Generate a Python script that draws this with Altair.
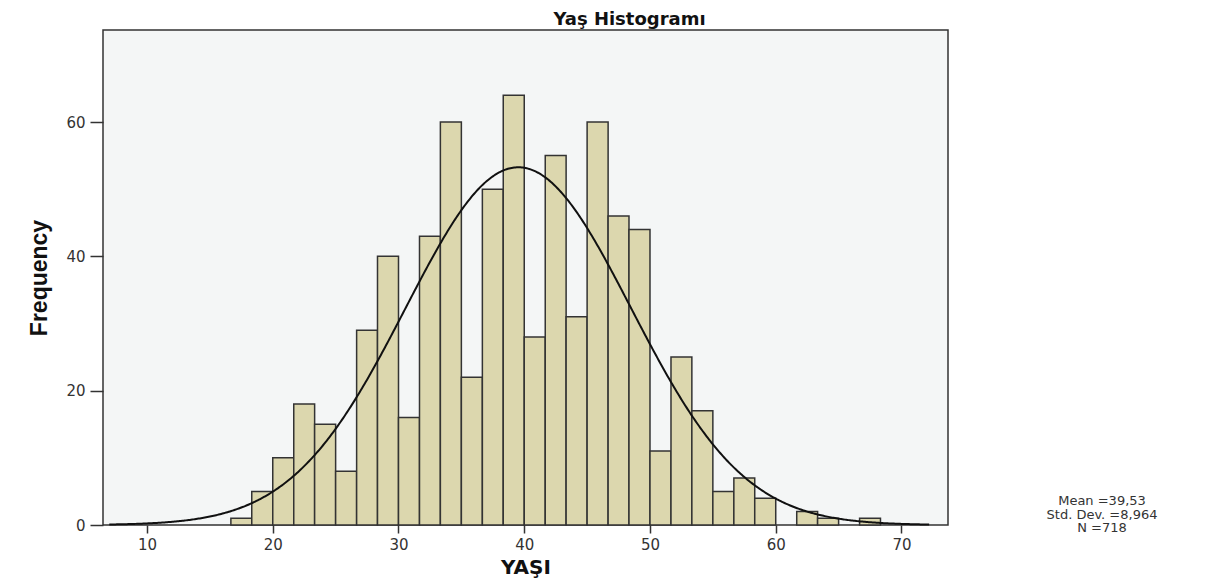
import altair as alt
import pandas as pd

# ---- data ----
bin_starts = [16.67, 18.33, 20.0, 21.67, 23.33, 25.0, 26.67, 28.33, 30.0, 31.67,
              33.33, 35.0, 36.67, 38.33, 40.0, 41.67, 43.33, 45.0, 46.67, 48.33,
              50.0, 51.67, 53.33, 55.0, 56.67, 58.33, 60.0, 61.67, 63.33, 65.0, 66.67]
bin_ends = [18.33, 20.0, 21.67, 23.33, 25.0, 26.67, 28.33, 30.0, 31.67, 33.33,
            35.0, 36.67, 38.33, 40.0, 41.67, 43.33, 45.0, 46.67, 48.33, 50.0,
            51.67, 53.33, 55.0, 56.67, 58.33, 60.0, 61.67, 63.33, 65.0, 66.67, 68.33]
counts = [1, 5, 10, 18, 15, 8, 29, 40, 16, 43,
          60, 22, 50, 64, 28, 55, 31, 60, 46, 44,
          11, 25, 17, 5, 7, 4, 0, 2, 1, 0, 1]

x_ticks = [10, 20, 30, 40, 50, 60, 70]
y_ticks = [0, 20, 40, 60]

mean_age = 39.53
std_dev = 8.964
n_total = 718
bin_width = 5.0 / 3.0
curve_start = 7.0
curve_end = 72.3

stats_lines = "Mean =39,53\nStd. Dev. =8,964\nN =718"

bars_df = pd.DataFrame({"start": bin_starts, "end": bin_ends, "count": counts})
bars_df = bars_df[bars_df["count"] > 0]

x_scale = alt.Scale(domain=[6.5, 73.7], nice=False, zero=False)
y_scale = alt.Scale(domain=[0, 73.7], nice=False)

x_axis = alt.Axis(values=x_ticks, title="YAŞI", grid=False, domain=False,
                  tickSize=8, tickWidth=1.5, tickColor="#333333",
                  labelPadding=4, labelFont="DejaVu Sans", labelFontSize=15,
                  labelColor="#333333", titleFont="DejaVu Sans", titleFontSize=20,
                  titleFontWeight="bold", titleColor="#111111", titlePadding=5)
y_axis = alt.Axis(values=y_ticks, title="Frequency", grid=False, domain=False,
                  tickSize=13, tickWidth=1.5, tickColor="#333333",
                  labelPadding=5, labelFont="DejaVu Sans", labelFontSize=15,
                  labelColor="#333333", titleFont="Liberation Sans", titleFontSize=23,
                  titleFontWeight="bold", titleColor="#111111", titlePadding=14)

bars = alt.Chart(bars_df).mark_rect(
    color="#DCD7AE", stroke="#333333", strokeWidth=1.5
).encode(
    x=alt.X("start:Q", scale=x_scale, axis=x_axis),
    x2="end:Q",
    y=alt.Y("count:Q", scale=y_scale, axis=y_axis),
    y2=alt.datum(0),
)

curve = alt.Chart(
    alt.sequence(start=curve_start, stop=curve_end, step=0.1, as_="age")
).transform_calculate(
    freq=f"{n_total} * {bin_width} / ({std_dev} * sqrt(2 * PI)) * exp(-0.5 * pow((datum.age - {mean_age}) / {std_dev}, 2))"
).mark_line(color="#111111", strokeWidth=2).encode(
    x=alt.X("age:Q", scale=x_scale),
    y=alt.Y("freq:Q", scale=y_scale),
)

stats = alt.Chart(pd.DataFrame({"t": [stats_lines]})).mark_text(
    font="DejaVu Sans", fontSize=13, color="#333333", align="center",
    baseline="middle", lineBreak="\n", lineHeight=13.5, clip=False
).encode(text="t:N", x=alt.value(999), y=alt.value(471))

chart = alt.layer(bars, curve, stats).properties(
    width=845, height=495,
    background="white",
    title=alt.TitleParams(text="Yaş Histogramı", font="DejaVu Sans", fontSize=18,
                          fontWeight="bold", color="#111111", anchor="middle",
                          dx=104, offset=1),
    autosize=alt.AutoSizeParams(type="none"),
    padding={"left": 95, "top": 22, "right": 260, "bottom": 60},
).configure_view(
    fill="#F4F6F6", stroke="#333333", strokeWidth=1.5
)

chart.save("out.html", embed_options={"renderer": "svg", "actions": False})
